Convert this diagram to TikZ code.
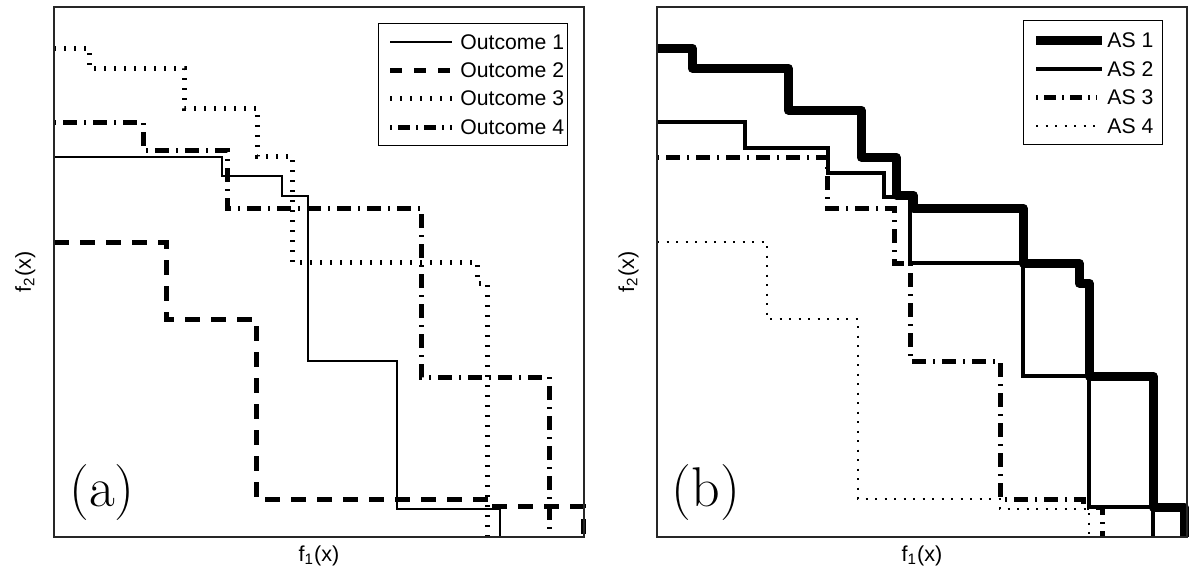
\documentclass[tikz,border=0pt]{standalone}
\usepackage{fontspec}
\newfontfamily\arialf{Liberation Sans}
\begin{document}
\begin{tikzpicture}[x=0.5pt,y=-0.5pt,
  frame/.style={draw=black!85, line width=0.6pt},
  legbox/.style={draw=black, line width=0.5pt, fill=white},
  oa/.style={line width=1pt},
  ob/.style={line width=2.5pt, dash pattern=on 7.5pt off 5.5pt},
  oc/.style={line width=2.5pt, dash pattern=on 1pt off 4pt},
  od/.style={line width=2.5pt, dash pattern=on 1pt off 3.5pt on 7pt off 3.5pt},
  asa/.style={line width=4.5pt, line join=round},
  asb/.style={line width=2.2pt},
  asc/.style={line width=2.5pt, dash pattern=on 1pt off 3.5pt on 7pt off 3.5pt},
  asd/.style={line width=1pt, dash pattern=on 1pt off 3.75pt},
  leg/.style={font=\arialf\fontsize{10.6}{12}\selectfont, anchor=west, inner sep=0pt},
  axl/.style={font=\arialf\fontsize{10.8}{12}\selectfont, inner sep=0pt, anchor=base},
  tag/.style={font=\fontsize{28}{30}\selectfont, inner sep=0pt, anchor=base}]
\useasboundingbox (0,0) rectangle (1200,579);
\fill[white] (0,0) rectangle (1200,579);

% ---------- panel (a) ----------
\draw[oa] (54,157) -| (222,176) -| (282,196) -| (308,361) -| (397,509) -| (500,537);
\draw[ob] (54,242) -| (166,319) -| (256,499) -| (485,506) -| (583,537);
\draw[oc] (54,48) -| (89,68) -| (184,108) -| (257,156) -| (292,262) -| (477,283) -| (487,537);
\draw[od] (54,122) -| (143,150) -| (227,208) -| (421,377) -| (549,537);
\draw[frame] (54,7) rectangle (584,537);

\node[legbox, minimum width=94.5pt, minimum height=61pt, anchor=north west, inner sep=0pt] (lega) at (378,23) {};
\coordinate (la1) at (390,42); \coordinate (la1e) at (452,42);
\coordinate (la2) at (390,70); \coordinate (la2e) at (452,70);
\coordinate (la3) at (390,98); \coordinate (la3e) at (452,98);
\coordinate (la4) at (390,127); \coordinate (la4e) at (452,127);
\draw[oa] (la1) -- (la1e);
\draw[ob, dash pattern=on 6pt off 6pt] (la2) -- (la2e);
\draw[oc] (la3) -- (la3e);
\draw[od, dash pattern=on 1pt off 3pt on 6pt off 3pt] (la4) -- (la4e);
\node[leg] (ta1) at (460,42) {Outcome 1};
\node[leg] (ta2) at (460,70) {Outcome 2};
\node[leg] (ta3) at (460,98) {Outcome 3};
\node[leg] (ta4) at (460,127) {Outcome 4};

\node[axl] (xa) at (319,561) {f\textsubscript{1}(x)};
\node[axl, rotate=90] (ya) at (31,272) {f\textsubscript{2}(x)};
\node[tag] (taga) at (102,506) {(a)};

% ---------- panel (b) ----------
\draw[asd] (657,242) -| (767,319) -| (858,499) -| (1000,509) -| (1089,537);
\draw[asc] (657,157) -| (827,208) -| (894,263) -| (910,361) -| (1000,499) -| (1083,507) -| (1102,537);
\draw[asb] (657,122) -| (745,148) -| (828,173) -| (884,197) -| (910,263) -| (1023,376) -| (1089,507) -| (1153,537);
\draw[asa] (657,48) -| (692,68) -| (788,110) -| (861,157) -| (896,195) -| (913,208) -| (1023,263) -| (1079,283) -| (1089,376) -| (1153,507) -| (1184,537);
\draw[frame] (657,7) rectangle (1187,537);

\node[legbox, minimum width=69.5pt, minimum height=62pt, anchor=north west, inner sep=0pt] (legb) at (1023,20) {};
\coordinate (lb1) at (1036,40); \coordinate (lb1e) at (1102,40);
\coordinate (lb2) at (1036,69); \coordinate (lb2e) at (1102,69);
\coordinate (lb3) at (1036,97); \coordinate (lb3e) at (1097,97);
\coordinate (lb4) at (1036,126); \coordinate (lb4e) at (1095,126);
\draw[asa, line join=miter] (lb1) -- (lb1e);
\draw[asb] (lb2) -- (lb2e);
\draw[asc, dash pattern=on 1pt off 3pt on 6pt off 3pt] (lb3) -- (lb3e);
\draw[asd] (lb4) -- (lb4e);
\node[leg] (tb1) at (1107,40) {AS 1};
\node[leg] (tb2) at (1107,69) {AS 2};
\node[leg] (tb3) at (1107,97) {AS 3};
\node[leg] (tb4) at (1107,126) {AS 4};

\node[axl] (xb) at (922,561) {f\textsubscript{1}(x)};
\node[axl, rotate=90] (yb) at (634,272) {f\textsubscript{2}(x)};
\node[tag] (tagb) at (706,506) {(b)};
\end{tikzpicture}
\end{document}
